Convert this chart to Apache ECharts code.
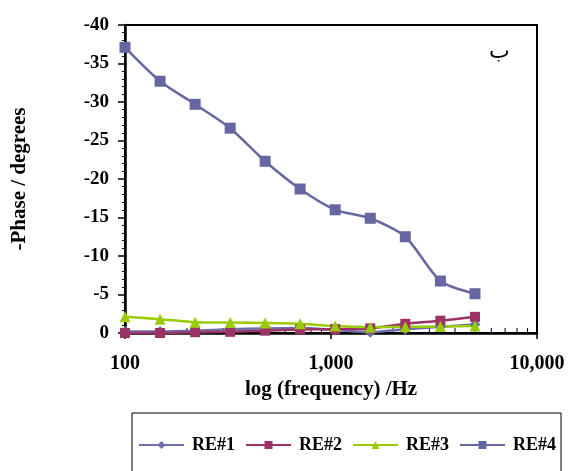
<!DOCTYPE html>
<html>
<head>
<meta charset="utf-8">
<script src="https://cdn.jsdelivr.net/npm/echarts@6/dist/echarts.min.js"></script>
<style>
  html, body { margin: 0; padding: 0; background: #fff; }
  #main { width: 569px; height: 471px; }
</style>
</head>
<body>
<div id="main"></div>
<script>
// frequencies (Hz), log-spaced 100..5000
const freqs = [100, 148, 219, 324, 479, 708, 1048, 1551, 2295, 3396, 5000];
const re1 = [-0.2, -0.2, -0.3, -0.5, -0.6, -0.65, -0.4, -0.1, -0.5, -0.8, -1.1];
const re2 = [0, 0, -0.1, -0.15, -0.3, -0.45, -0.5, -0.6, -1.2, -1.6, -2.1];
const re3 = [-2.1, -1.8, -1.4, -1.35, -1.3, -1.2, -0.9, -0.75, -0.8, -0.85, -0.9];
const re4 = [-37.1, -32.7, -29.7, -26.6, -22.3, -18.7, -16.0, -14.9, -12.5, -6.75, -5.1];
const minorX = [200, 300, 400, 500, 600, 700, 800, 900, 2000, 3000, 4000, 5000, 6000, 7000, 8000, 9000];

const font = '"Liberation Serif", "Times New Roman", serif';
const pair = arr => freqs.map((f, i) => [f, arr[i]]);

const chart = echarts.init(document.getElementById('main'));

const mkSeries = (name, data, color, symbol, size) => ({
    name: name,
    type: 'line',
    data: pair(data),
    symbol: symbol,
    symbolSize: size,
    showSymbol: true,
    smooth: 0.25,
    lineStyle: { color: color, width: 2.5 },
    itemStyle: { color: color },
    emphasis: { disabled: true },
    z: 3
});

chart.setOption({
    animation: false,
    grid: {
        left: 125, top: 25, right: 32, bottom: 138,
        show: true, borderColor: '#000', borderWidth: 2
    },
    title: {
        text: 'ب',
        left: 484, top: 36,
        textStyle: { fontFamily: '"DejaVu Sans", sans-serif', fontSize: 22, fontWeight: 'normal', color: '#000' }
    },
    legend: {
        data: ['RE#1', 'RE#2', 'RE#3', 'RE#4'],
        left: 132, top: 413,
        padding: [23, 5, 23, 6],
        itemGap: 10,
        itemWidth: 45,
        itemHeight: 10,
        borderColor: '#000',
        borderWidth: 1,
        textStyle: { fontFamily: font, fontSize: 18, fontWeight: 'bold', color: '#000', padding: [0, 0, 0, 3] }
    },
    xAxis: {
        type: 'log',
        logBase: 10,
        min: 100,
        max: 10000,
        name: 'log (frequency) /Hz',
        nameLocation: 'middle',
        nameGap: 45,
        nameTextStyle: { fontFamily: font, fontSize: 21, fontWeight: 'bold', color: '#000' },
        axisLine: { lineStyle: { color: '#000', width: 2.5 } },
        axisTick: { show: true, inside: false, length: 6, lineStyle: { color: '#000', width: 1.5 } },
        axisLabel: {
            margin: 21,
            fontFamily: font, fontSize: 20, fontWeight: 'bold', color: '#000',
            formatter: v => Math.round(v).toLocaleString('en-US')
        },
        splitLine: { show: false }
    },
    yAxis: {
        type: 'value',
        inverse: true,
        min: -40,
        max: 0,
        interval: 5,
        name: '-Phase / degrees',
        nameLocation: 'middle',
        nameGap: 95,
        nameRotate: 90,
        nameTextStyle: { fontFamily: font, fontSize: 21, fontWeight: 'bold', color: '#000' },
        axisLine: { show: true, lineStyle: { color: '#000', width: 2.5 } },
        axisTick: { show: true, length: 7, lineStyle: { color: '#000', width: 1.5 } },
        minorTick: { show: true, splitNumber: 5, length: 3, lineStyle: { color: '#000', width: 1 } },
        axisLabel: { margin: 16, fontFamily: font, fontSize: 19, fontWeight: 'bold', color: '#000' },
        splitLine: { show: false }
    },
    series: [
        mkSeries('RE#1', re1, '#6E6EAA', 'diamond', 11),
        mkSeries('RE#2', re2, '#9C3366', 'rect', 10),
        mkSeries('RE#3', re3, '#99CC00', 'triangle', 11),
        mkSeries('RE#4', re4, '#6666A3', 'rect', 11),
        {
            type: 'custom',
            silent: true,
            data: minorX.map(v => [v, 0]),
            renderItem: (params, api) => {
                const p = api.coord([api.value(0), api.value(1)]);
                return {
                    type: 'line',
                    shape: { x1: p[0], y1: p[1], x2: p[0], y2: p[1] - 5 },
                    style: { stroke: '#000', lineWidth: 1 }
                };
            },
            z: 1
        }
    ]
});
</script>
</body>
</html>
